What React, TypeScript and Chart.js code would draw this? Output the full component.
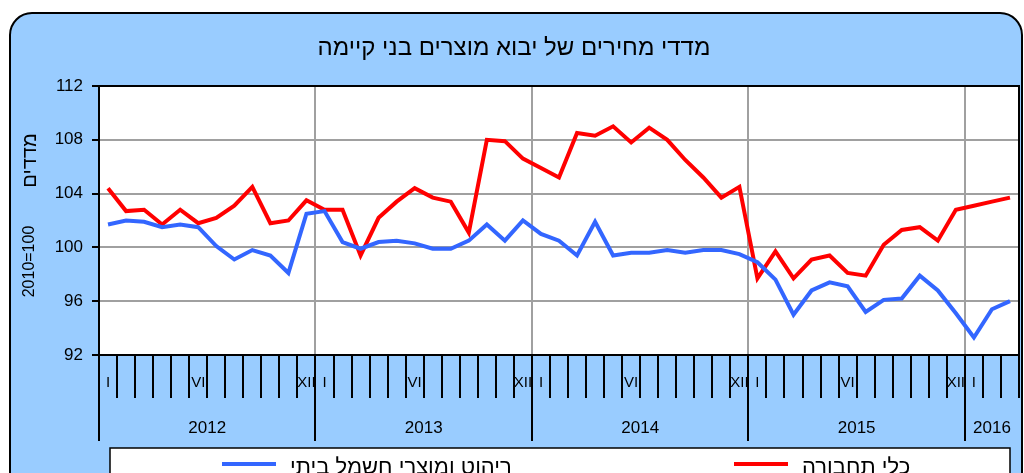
import React, { useEffect, useRef } from 'react';
import { Chart, registerables } from 'chart.js';

Chart.register(...registerables);

const TITLE = 'מדדי מחירים של יבוא מוצרים בני קיימה';
const Y_TITLE_WORD = 'מדדים';
const Y_TITLE_BASE = '2010=100';
const YEARS = ['2012', '2013', '2014', '2015', '2016'];
const MONTH_MARKS = ['I', '', '', '', '', 'VI', '', '', '', '', '', 'XII'];
const MONTH_COUNT = 51; // Jan 2012 .. Mar 2016
const Y_TICKS = [92, 96, 100, 104, 108, 112];

const SERIES_NAMES = ['ריהוט ומוצרי חשמל ביתי', 'כלי תחבורה'];
const SERIES_COLORS = ['#3366FF', '#FF0000'];

const FURNITURE = [
  101.7, 102.0, 101.9, 101.5, 101.7, 101.5, 100.1, 99.1, 99.8, 99.4, 98.1, 102.5,
  102.7, 100.4, 99.9, 100.4, 100.5, 100.3, 99.9, 99.9, 100.5, 101.7, 100.5, 102.0,
  101.0, 100.5, 99.4, 101.9, 99.4, 99.6, 99.6, 99.8, 99.6, 99.8, 99.8, 99.5,
  98.9, 97.6, 95.0, 96.8, 97.4, 97.1, 95.2, 96.1, 96.2, 97.9, 96.8, 95.1,
  93.3, 95.4, 96.0,
];

const VEHICLES = [
  104.4, 102.7, 102.8, 101.7, 102.8, 101.8, 102.2, 103.1, 104.5, 101.8, 102.0, 103.5,
  102.8, 102.8, 99.4, 102.2, 103.4, 104.4, 103.7, 103.4, 101.1, 108.0, 107.9, 106.6,
  105.9, 105.2, 108.5, 108.3, 109.0, 107.8, 108.9, 108.0, 106.5, 105.2, 103.7, 104.5,
  97.7, 99.7, 97.7, 99.1, 99.4, 98.1, 97.9, 100.2, 101.3, 101.5, 100.5, 102.8,
  103.1, 103.4, 103.7,
];

const MONTH_LABELS: string[] = [];
for (let i = 0; i < MONTH_COUNT; i++) {
  MONTH_LABELS.push(YEARS[Math.floor(i / 12)] + '-' + String((i % 12) + 1).padStart(2, '0'));
}

const FONT = 'Arial, "Liberation Sans", sans-serif';

const decorPlugin = {
  id: 'decor',
  beforeDraw(chart: any) {
    const { ctx, chartArea: a } = chart;
    ctx.save();
    ctx.fillStyle = '#ffffff';
    ctx.fillRect(0, 0, chart.width, chart.height);
    // rounded blue panel
    const x = 10, y = 13, w = 1012, h = 530, r = 22;
    ctx.beginPath();
    ctx.moveTo(x + r, y);
    ctx.lineTo(x + w - r, y);
    ctx.arcTo(x + w, y, x + w, y + r, r);
    ctx.lineTo(x + w, y + h);
    ctx.lineTo(x, y + h);
    ctx.lineTo(x, y + r);
    ctx.arcTo(x, y, x + r, y, r);
    ctx.closePath();
    ctx.fillStyle = '#99CCFF';
    ctx.fill();
    ctx.lineWidth = 2;
    ctx.strokeStyle = '#000000';
    ctx.stroke();
    // plot area
    ctx.fillStyle = '#ffffff';
    ctx.fillRect(a.left, a.top, a.right - a.left, a.bottom - a.top);
    // title
    ctx.fillStyle = '#000000';
    ctx.font = '24px ' + FONT;
    ctx.textAlign = 'center';
    ctx.textBaseline = 'middle';
    ctx.fillText(TITLE, 514, 48);
    // y axis title (rotated)
    ctx.save();
    ctx.translate(30, (a.top + a.bottom) / 2);
    ctx.rotate(-Math.PI / 2);
    ctx.font = '16px ' + FONT;
    ctx.fillText(Y_TITLE_BASE, -41, 0);
    ctx.font = '20px ' + FONT;
    ctx.fillText(Y_TITLE_WORD, 60, 0);
    ctx.restore();
    ctx.restore();
  },
  beforeDatasetsDraw(chart: any) {
    const { ctx, chartArea: a } = chart;
    const xs = chart.scales.x;
    const half = (xs.getPixelForValue(1) - xs.getPixelForValue(0)) / 2;
    ctx.save();
    ctx.strokeStyle = '#A0A0A0';
    ctx.lineWidth = 2;
    for (let k = 12; k < MONTH_COUNT; k += 12) {
      const px = Math.round(xs.getPixelForValue(k) - half);
      ctx.beginPath();
      ctx.moveTo(px, a.top);
      ctx.lineTo(px, a.bottom);
      ctx.stroke();
    }
    ctx.restore();
  },
  afterDraw(chart: any) {
    const { ctx, chartArea: a } = chart;
    const xs = chart.scales.x;
    const half = (xs.getPixelForValue(1) - xs.getPixelForValue(0)) / 2;
    ctx.save();
    // plot border
    ctx.strokeStyle = '#000000';
    ctx.lineWidth = 2;
    ctx.strokeRect(a.left, a.top, a.right - a.left, a.bottom - a.top);
    // month ticks and year separators
    for (let k = 0; k <= MONTH_COUNT; k++) {
      const px = Math.round(k < MONTH_COUNT ? xs.getPixelForValue(k) - half : xs.getPixelForValue(k - 1) + half);
      const isYear = k % 12 === 0 && k < MONTH_COUNT;
      ctx.beginPath();
      ctx.moveTo(px, a.bottom);
      ctx.lineTo(px, a.bottom + (isYear ? 86 : 43));
      ctx.stroke();
    }
    // month labels
    ctx.fillStyle = '#000000';
    ctx.font = '15px ' + FONT;
    ctx.textAlign = 'center';
    ctx.textBaseline = 'middle';
    for (let i = 0; i < MONTH_COUNT; i++) {
      const m = MONTH_MARKS[i % 12];
      if (m) ctx.fillText(m, xs.getPixelForValue(i), a.bottom + 28);
    }
    // year labels
    ctx.font = '17px ' + FONT;
    for (let yi = 0; yi < YEARS.length; yi++) {
      const first = yi * 12;
      const last = Math.min(first + 11, MONTH_COUNT - 1);
      const cx = (xs.getPixelForValue(first) - half + xs.getPixelForValue(last) + half) / 2;
      ctx.fillText(YEARS[yi], cx, a.bottom + 73);
    }
    // legend box
    ctx.fillStyle = '#ffffff';
    ctx.fillRect(110, 448, 900, 60);
    ctx.lineWidth = 1.5;
    ctx.strokeRect(110, 448, 900, 60);
    const items = [
      { x: 222, ds: chart.data.datasets[0] },
      { x: 734, ds: chart.data.datasets[1] },
    ];
    ctx.font = '22px ' + FONT;
    ctx.textAlign = 'left';
    for (const it of items) {
      ctx.strokeStyle = it.ds.borderColor;
      ctx.lineWidth = 4;
      ctx.beginPath();
      ctx.moveTo(it.x, 464);
      ctx.lineTo(it.x + 54, 464);
      ctx.stroke();
      ctx.fillStyle = '#000000';
      ctx.fillText(it.ds.label, it.x + 68, 468);
    }
    ctx.restore();
  },
};

export default function App() {
  const ref = useRef<HTMLCanvasElement | null>(null);
  useEffect(() => {
    if (!ref.current) return;
    const chart = new Chart(ref.current, {
      type: 'line',
      data: {
        labels: MONTH_LABELS,
        datasets: [
          {
            label: SERIES_NAMES[0],
            data: FURNITURE,
            borderColor: SERIES_COLORS[0],
            backgroundColor: SERIES_COLORS[0],
            borderWidth: 4,
            pointRadius: 0,
            tension: 0,
          },
          {
            label: SERIES_NAMES[1],
            data: VEHICLES,
            borderColor: SERIES_COLORS[1],
            backgroundColor: SERIES_COLORS[1],
            borderWidth: 4,
            pointRadius: 0,
            tension: 0,
          },
        ],
      },
      options: {
        animation: false,
        responsive: false,
        devicePixelRatio: 1,
        layout: { padding: { left: 0, right: 5, top: 86, bottom: 118 } },
        plugins: {
          legend: { display: false },
          title: { display: false },
          tooltip: { enabled: false },
        },
        scales: {
          x: {
            type: 'category',
            offset: true,
            grid: { display: false },
            border: { display: false },
            ticks: { display: false },
            afterFit: (s: any) => { s.height = 0; },
          },
          y: {
            min: Y_TICKS[0],
            max: Y_TICKS[Y_TICKS.length - 1],
            afterBuildTicks: (s: any) => { s.ticks = Y_TICKS.map((v) => ({ value: v })); },
            ticks: {
              color: '#000000',
              font: { family: FONT, size: 17 },
              padding: 9,
            },
            grid: {
              color: '#A0A0A0',
              lineWidth: 2,
              tickColor: '#000000',
              tickLength: 7,
            },
            border: { display: false },
            afterFit: (s: any) => { s.width = 99; },
          },
        },
      },
      plugins: [decorPlugin],
    });
    return () => chart.destroy();
  }, []);
  return (
    <div style={{ position: 'absolute', left: 0, top: 0, width: 1024, height: 473 }}>
      <canvas ref={ref} width={1024} height={473} />
    </div>
  );
}
